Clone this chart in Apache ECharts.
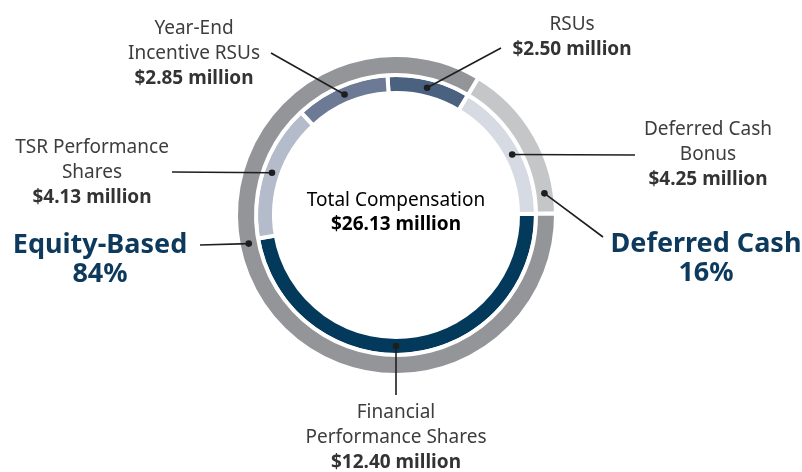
<!DOCTYPE html>
<html>
<head>
<meta charset="utf-8">
<title>Total Compensation</title>
<script src="https://cdn.jsdelivr.net/npm/echarts/dist/echarts.min.js"></script>
<style>
  html, body { margin: 0; padding: 0; background: #fff; }
  #main { width: 802px; height: 472px; }
</style>
</head>
<body>
<div id="main"></div>
<script>
// pieces of the inner ring, clockwise from the top
var parts = ['RSUs', 'Deferred Cash\nBonus', 'Financial\nPerformance Shares', 'TSR Performance\nShares', 'Year-End\nIncentive RSUs'];
var amounts = [2.50, 4.25, 12.40, 4.13, 2.85];
var partColors = ['#4b6180', '#d6dae2', '#033a5b', '#b4bccb', '#6d7a96'];

// outer ring groups, clockwise starting after RSUs
var groups = ['Deferred Cash', 'Equity-Based'];
var groupAmounts = [4.25, 21.88];
var groupPct = ['16%', '84%'];
var groupColors = ['#c5c6c8', '#939598'];

var totalLabel = '$26.13 million';

var FONT = 'Noto Sans';
var cx = 396, cy = 215;
var startAngle = 93.5;
var total = amounts.reduce(function (a, b) { return a + b; }, 0);
var outerStart = startAngle - 360 * amounts[0] / total;

// where each label sits and where its leader line ends
var innerLayout = [
  { tx: 572, ty: 37, end: [501, 48] },
  { tx: 708, ty: 155, end: [635, 155], angle: 27.5 },
  { tx: 396, ty: 438, end: [396, 395], angle: -90 },
  { tx: 92, ty: 173, end: [172, 172] },
  { tx: 194, ty: 54, end: [271, 53] }
];
var outerLayout = [
  { tx: 706, ty: 259, end: [603, 237], angle: 8.3 },
  { tx: 100, ty: 260, end: [200, 245], angle: 191 }
];

function midAngles(vals, start) {
  var out = [], cum = 0, sum = vals.reduce(function (a, b) { return a + b; }, 0);
  vals.forEach(function (v) {
    out.push(start - 360 * (cum + v / 2) / sum);
    cum += v;
  });
  return out;
}
function anchor(angle, r) {
  var a = angle * Math.PI / 180;
  return [cx + r * Math.cos(a), cy - r * Math.sin(a)];
}

var innerMid = midAngles(amounts, startAngle);
var outerMid = midAngles(groupAmounts, outerStart);
var innerAnchors = innerLayout.map(function (l, i) {
  return anchor(l.angle != null ? l.angle : innerMid[i], 131);
});
var outerAnchors = outerLayout.map(function (l, i) {
  return anchor(l.angle != null ? l.angle : outerMid[i], 150);
});

// leader lines with a dot on the ring
var leaders = [];
innerLayout.concat(outerLayout).forEach(function (l, i) {
  var p = innerAnchors.concat(outerAnchors)[i];
  leaders.push({
    type: 'polyline', z: 99, silent: true,
    shape: { points: [p, l.end] },
    style: { stroke: '#1e1e1e', lineWidth: 1.6, fill: null }
  });
  leaders.push({
    type: 'circle', z: 100, silent: true,
    shape: { cx: p[0], cy: p[1], r: 3.3 },
    style: { fill: '#1e1e1e' }
  });
});

function layoutFor(list) {
  return function (params) {
    var l = list[params.dataIndex];
    return { x: l.tx, y: l.ty, align: 'center', verticalAlign: 'middle' };
  };
}

var chartDom = document.getElementById('main');
var myChart = echarts.init(chartDom);

var option = {
  animation: false,
  textStyle: { fontFamily: FONT },
  graphic: [{
    type: 'text',
    left: cx - 110, top: 191,
    style: {
      text: '{n|Total Compensation}\n{v|' + totalLabel + '}',
      width: 220, align: 'center',
      rich: {
        n: { fontFamily: FONT, fontSize: 19, color: '#333', lineHeight: 24, align: 'center', width: 220 },
        v: { fontFamily: FONT, fontSize: 19, fontWeight: 'bold', color: '#2b2b2b', lineHeight: 24, align: 'center', width: 220 }
      }
    }
  }].concat(leaders),
  series: [
    {
      type: 'pie',
      center: [cx, cy],
      radius: [122, 140],
      startAngle: startAngle,
      clockwise: true,
      avoidLabelOverlap: false,
      minShowLabelAngle: 0,
      itemStyle: { borderColor: '#fff', borderWidth: 4 },
      label: {
        show: true, position: 'outside', align: 'center',
        formatter: function (p) {
          return '{n|' + p.name + '}\n{v|$' + p.value.toFixed(2) + ' million}';
        },
        rich: {
          n: { fontFamily: FONT, fontSize: 19, color: '#3d3d3d', lineHeight: 25 },
          v: { fontFamily: FONT, fontSize: 19, fontWeight: 'bold', color: '#333', lineHeight: 25 }
        }
      },
      labelLine: { show: false },
      labelLayout: layoutFor(innerLayout),
      emphasis: { disabled: true },
      data: parts.map(function (n, i) {
        return { name: n, value: amounts[i], itemStyle: { color: partColors[i] } };
      })
    },
    {
      type: 'pie',
      center: [cx, cy],
      radius: [140, 160],
      startAngle: outerStart,
      clockwise: true,
      avoidLabelOverlap: false,
      minShowLabelAngle: 0,
      itemStyle: { borderColor: '#fff', borderWidth: 4 },
      label: {
        show: true, position: 'outside', align: 'center',
        formatter: function (p) {
          return '{b|' + p.name + '}\n{b|' + groupPct[p.dataIndex] + '}';
        },
        rich: {
          b: { fontFamily: FONT, fontSize: 27, fontWeight: 'bold', color: '#0d3a5c', lineHeight: 29 }
        }
      },
      labelLine: { show: false },
      labelLayout: layoutFor(outerLayout),
      emphasis: { disabled: true },
      data: groups.map(function (n, i) {
        return { name: n, value: groupAmounts[i], itemStyle: { color: groupColors[i] } };
      })
    }
  ]
};

myChart.setOption(option);
</script>
</body>
</html>
